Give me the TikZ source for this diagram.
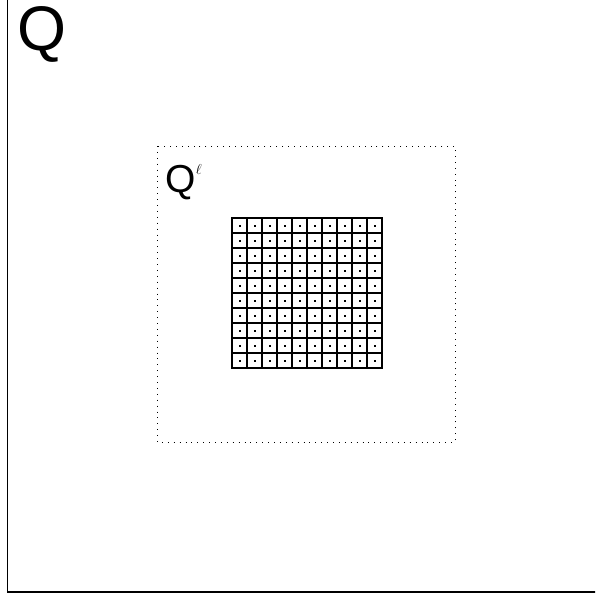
\documentclass[tikz,border=0pt]{standalone}
\usepackage{fontspec}
\setmainfont{Liberation Sans}
\usetikzlibrary{positioning}

\begin{document}
\begin{tikzpicture}[
  x=1pt, y=-1pt,
  frame/.style={draw, line width=1.5pt},
  inner box/.style={draw, line width=1pt, dash pattern=on 1pt off 4.9pt},
  cell/.style={draw, line width=1.2pt},
  pt/.style={fill, inner sep=0pt, minimum size=2pt, rectangle},
  lbl/.style={inner sep=0pt, anchor=north west}
]
\useasboundingbox (0,0) rectangle (595,597);
\clip (0,0) rectangle (595,597);
% outer domain
\draw[frame] (7.5,-10) rectangle (605,592);
\node[lbl, font=\fontsize{63}{63}\selectfont] (Q) at (17,6) {Q};
% inner dotted region
\draw[inner box] (157,146) rectangle (455,442);
\node[lbl, font=\fontsize{39}{39}\selectfont] (Qell) at (165,165) {Q};
\node[font=\fontsize{14}{14}\selectfont, right=0pt of Qell.north east, anchor=north west, inner sep=0pt, yshift=1pt] (ell) {$\ell$};
% grid of cells with centre points
\foreach \i in {0,...,9}{
  \foreach \j in {0,...,9}{
    \draw[cell] (232+15*\i,218+15*\j) rectangle ++(15,15);
    \node[pt] (c\i\j) at (239.5+15*\i,225.5+15*\j) {};
  }
}
\end{tikzpicture}
\end{document}
